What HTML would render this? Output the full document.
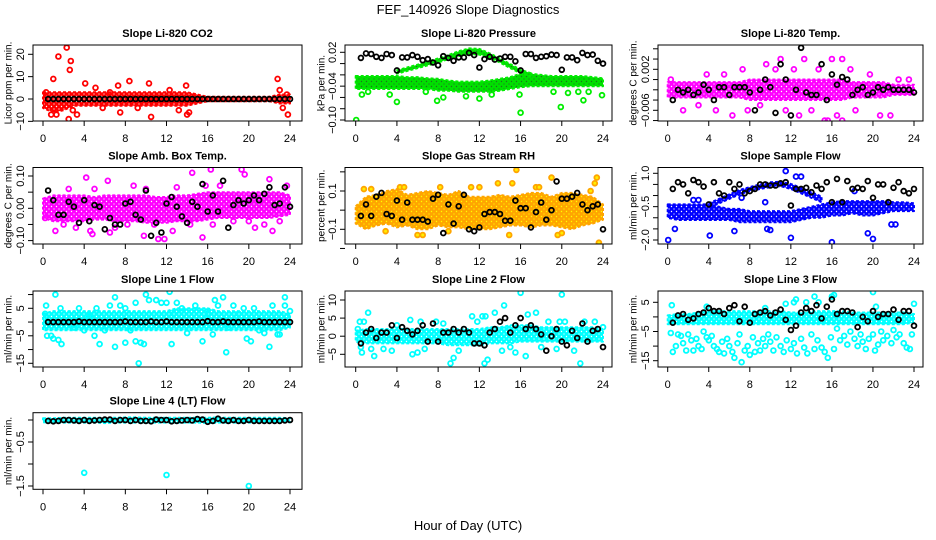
<!DOCTYPE html>
<html><head><meta charset="utf-8">
<style>
html,body{margin:0;padding:0;background:#fff;}
svg{display:block;font-family:"Liberation Sans",Arial,sans-serif;}
</style></head>
<body>
<svg id="chart" width="936" height="540" viewBox="0 0 936 540" xmlns="http://www.w3.org/2000/svg">
<text x="468" y="14" text-anchor="middle" font-size="13">FEF_140926  Slope Diagnostics</text>
<text x="468" y="530" text-anchor="middle" font-size="13">Hour of Day (UTC)</text>
</svg>
<script>
// ---------- shared hour categories ----------
const bandHours = [0,1,2,3,4,5,6,7,8,9,10,11,12,13,14,15,16,17,18,19,20,21,22,23,24];
const blackHours = [0.5,1,1.5,2,2.5,3,3.5,4,4.5,5,5.5,6,6.5,7,7.5,8,8.5,9,9.5,10,10.5,11,11.5,12,12.5,13,13.5,14,14.5,15,15.5,16,16.5,17,17.5,18,18.5,19,19.5,20,20.5,21,21.5,22,22.5,23,23.5,24];
const xTicks = [0,4,8,12,16,20,24];

// ---------- P1 CO2 ----------
const p1BandLo = [-4,-6,-5,-3,-3,-3,-3,-3,-3,-3,-3,-3,-3,-3,-3,-2,-1,-1,-1,-1,-1,-1,-1,-2,-2];
const p1BandHi = [3,3,3,3,3,3,3,3,3,3,3,3,3,3,3,2,1,1,1,1,1,1,1,2,2];
const p1OutH = [0.3,0.8,1.0,1.3,1.5,2.3,2.5,2.6,2.7,2.9,3.3,4.1,5.1,5.8,6.5,7.3,7.5,8.4,9.2,10.3,10.5,12.3,13.2,13.9,14.0,14.2,22.8,23.0,23.3,23.7,23.8];
const p1OutV = [3,-7,9,-7,19,23,-9,13,17,-5,-7,7,5,-4,3,6,-6,8,-4,7,-8,4,-5,6,-7,-6,9,4,-4,2,-7];
const p1Black = [0,0,0,0,0,0,0,0,0,0,0,0,0,0,0,0,0,0,0,0,0,0,0,0,0,0,0,0,0,0,0,0,0,0,0,0,0,0,0,0,0,0,0,0,0,0,0,0];

// ---------- P2 Pressure ----------
const p2BandLo = [-0.045,-0.045,-0.045,-0.045,-0.045,-0.045,-0.045,-0.045,-0.048,-0.048,-0.05,-0.05,-0.05,-0.05,-0.048,-0.045,-0.042,-0.04,-0.04,-0.04,-0.04,-0.04,-0.04,-0.04,-0.04];
const p2BandHi = [-0.022,-0.022,-0.022,-0.022,-0.022,-0.024,-0.024,-0.026,-0.027,-0.03,-0.032,-0.032,-0.032,-0.03,-0.027,-0.024,-0.018,-0.018,-0.02,-0.022,-0.022,-0.022,-0.022,-0.024,-0.026];
const p2ArcLo = [null,null,null,null,-0.018,-0.013,-0.008,-0.003,0.002,0.008,0.013,0.017,0.016,0.011,0.002,-0.008,-0.017,-0.022,null,null,null,null,null,null,null];
const p2ArcHi = [null,null,null,null,-0.012,-0.007,-0.002,0.004,0.009,0.015,0.022,0.027,0.026,0.018,0.009,-0.001,-0.011,-0.017,null,null,null,null,null,null,null];
const p2OutH = [0.05,0.6,1.2,3.3,4.0,6.8,7.9,8.5,10.7,12.0,13.2,15.9,16.0,19.2,19.9,20.6,21.6,22.1,22.6,23.9];
const p2OutV = [-0.1,-0.055,-0.05,-0.055,-0.068,-0.05,-0.066,-0.06,-0.058,-0.062,-0.055,-0.055,-0.087,-0.05,-0.077,-0.052,-0.05,-0.065,-0.05,-0.056];
const p2Black = [0.01,0.018,0.017,0.012,0.01,0.017,0.015,-0.012,0.011,0.011,0.015,0.012,0.006,0.008,0.002,-0.003,0.013,0.01,0.005,0.011,0.011,0.019,0.015,-0.007,0.008,0.012,0.007,0.009,0.012,0.012,0.004,-0.012,0.017,0.017,0.01,0.012,0.013,0.016,0.015,-0.011,0.011,0.011,0.006,0.019,0.015,0.016,0.005,0.0];

// ---------- P3 Li-820 Temp ----------
const p3BandLo = [-0.0035,-0.0035,-0.0035,-0.0035,-0.0035,-0.0035,-0.0035,-0.0035,-0.004,-0.004,-0.004,-0.004,-0.004,-0.004,-0.004,-0.004,-0.004,-0.004,-0.0035,-0.0035,-0.0035,-0.0035,-0.003,-0.003,-0.003];
const p3BandHi = [-0.0005,-0.0005,-0.0005,-0.0005,-0.0005,-0.0005,-0.0005,-0.0005,0,0,0,0,0,0,0,0,0,0,-0.0005,-0.0005,-0.0005,-0.0005,-0.001,-0.001,-0.001];
const p3OutH = [0.3,1.5,3,3.8,4.7,5.5,6.3,7.3,7.8,9,9.6,10.5,11,11.5,12.3,12.8,13.3,14,14.7,15.3,15.6,16,16.5,17,17,17.8,18.3,19.7,20.7,21.7,22.5,23.5];
const p3OutV = [0,-0.006,-0.005,0.001,-0.006,0.001,-0.007,0.002,-0.006,-0.005,0.003,0.002,0.004,-0.006,0.002,-0.007,0.004,-0.006,0.002,-0.008,-0.008,0.004,-0.007,0.004,-0.008,0.002,-0.006,0.001,-0.007,-0.007,0,0];
const p3Black = [-0.004,-0.002,-0.0025,-0.002,-0.003,-0.0025,-0.001,-0.002,-0.004,-0.0015,-0.0015,-0.003,-0.0015,-0.0015,-0.0015,-0.0025,-0.006,-0.002,0,-0.0015,-0.0065,0.003,0,-0.007,-0.002,0.0062,-0.0025,-0.003,-0.003,0.003,-0.004,0.001,-0.001,0.0005,0,-0.003,-0.002,-0.0015,-0.003,-0.0025,-0.0015,-0.002,-0.0015,-0.002,-0.002,-0.002,-0.002,-0.0025];

// ---------- P4 Amb Box Temp ----------
const p4BandLo = [-0.03,-0.04,-0.04,-0.04,-0.04,-0.035,-0.035,-0.04,-0.04,-0.04,-0.045,-0.045,-0.045,-0.04,-0.04,-0.04,-0.035,-0.03,-0.03,-0.03,-0.03,-0.03,-0.03,-0.025,-0.02];
const p4BandHi = [0.03,0.04,0.04,0.04,0.04,0.035,0.04,0.04,0.04,0.04,0.04,0.035,0.035,0.04,0.04,0.045,0.05,0.05,0.05,0.05,0.05,0.05,0.05,0.05,0.04];
const p4OutH = [0.2,1.2,2,3.2,4.2,4.6,4.8,5,6.3,6.5,7,8.2,8.8,9.8,10.8,11.2,11.8,12.6,14.5,14.3,15.5,15.8,16.3,16.5,17.2,18.5,19.3,19.6,20,20.6,21.5,22,22.3,23,23.7,2.5,10,13];
const p4OutV = [-0.03,-0.07,-0.05,-0.06,0.095,-0.07,-0.08,0.06,0.085,-0.075,-0.06,-0.05,0.07,-0.085,-0.05,-0.095,-0.095,-0.07,0.11,-0.05,-0.09,0.07,0.12,-0.05,0.07,-0.04,0.12,0.105,-0.04,-0.06,-0.05,0.09,-0.07,-0.04,0.07,0.06,0.06,0.065];
const p4Black = [0.055,0.025,-0.02,-0.02,0.02,0.005,-0.045,0.025,-0.04,0.01,0.005,-0.065,-0.03,-0.05,-0.05,0.015,0.02,-0.02,-0.035,0.055,-0.085,-0.045,-0.075,0.015,0.035,0.005,-0.025,-0.045,0.02,0.005,0.075,-0.01,0.04,-0.01,0.085,-0.06,0.01,0.025,0.015,0.025,0.04,0.025,0.045,0.065,0.01,0.015,0.065,0.005];

// ---------- P5 Gas Stream RH ----------
const p5BandLo = [-0.07,-0.1,-0.08,-0.07,-0.09,-0.08,-0.1,-0.1,-0.08,-0.09,-0.09,-0.1,-0.1,-0.1,-0.09,-0.08,-0.08,-0.09,-0.08,-0.08,-0.09,-0.1,-0.08,-0.07,-0.05];
const p5BandHi = [0.02,0.07,0.08,0.1,0.11,0.08,0.09,0.1,0.09,0.08,0.1,0.07,0.07,0.07,0.08,0.07,0.08,0.09,0.09,0.07,0.09,0.09,0.08,0.07,0.03];
const p5OutH = [0.8,2.9,4.3,4.7,6,6.5,9,11.2,12,13.8,14.9,15.2,15.6,17.5,17.8,19,19.6,20,22.8,23.2,23.6,23.4,1.5,8.2];
const p5OutV = [0.11,-0.11,0.12,0.12,-0.13,-0.13,-0.11,0.12,0.12,0.14,-0.13,0.14,0.21,0.12,0.12,0.17,-0.13,-0.12,0.1,0.14,-0.17,0.17,0.11,0.12];
const p5Black = [-0.03,0.03,-0.03,0.07,0.09,-0.02,-0.03,0.05,-0.05,0.04,-0.05,-0.05,-0.05,-0.06,0.06,0.08,-0.12,0.03,-0.07,0.02,0.08,-0.1,-0.11,-0.09,-0.02,-0.01,-0.01,-0.02,-0.055,-0.055,0.05,0.01,0.01,-0.09,-0.01,0.04,-0.05,0,0.15,0.06,0.06,0.07,0.09,0.03,0,0.02,0.03,-0.1];

// ---------- P6 Sample Flow ----------
const p6BandLo = [-1.0,-1.1,-1.1,-1.1,-1.1,-1.1,-1.1,-1.2,-1.2,-1.2,-1.2,-1.2,-1.2,-1.1,-1.0,-1.0,-0.9,-0.9,-0.8,-0.9,-0.9,-0.8,-0.7,-0.7,-0.7];
const p6BandHi = [-0.4,-0.4,-0.4,-0.4,-0.4,-0.5,-0.6,-0.6,-0.7,-0.7,-0.7,-0.7,-0.7,-0.6,-0.5,-0.4,-0.3,-0.25,-0.25,-0.25,-0.25,-0.25,-0.3,-0.3,-0.35];
const p6ArcLo = [null,null,null,null,-0.55,-0.35,-0.15,0.05,0.2,0.3,0.38,0.42,0.3,0.1,-0.1,-0.3,null,null,null,null,null,null,null,null,null];
const p6ArcHi = [null,null,null,null,-0.35,-0.15,0.05,0.25,0.38,0.5,0.6,0.62,0.52,0.35,0.15,-0.05,null,null,null,null,null,null,null,null,null];
const p6OutH = [0.05,0.7,4.1,6.5,9.7,10,11.5,12,12.5,13,16,19.5,20,21.8,22.2,2.5,3,7.2,9.5,18.2];
const p6OutV = [-2.0,-1.5,-1.8,-1.6,-1.5,-1.55,1.1,-1.9,0.85,0.85,-2.1,-1.7,-1.95,-1.3,-1.3,-0.2,-0.2,-0.1,-0.3,0.2];
const p6Black = [0.3,0.6,0.5,0.1,0.7,0.6,0.4,-0.4,0.6,0.1,0.0,0.6,0.3,0.5,0.1,0.2,0.3,0.5,0.5,0.45,0.45,0.55,0.6,-0.45,0.3,0.3,0.35,0.15,0.45,0.3,0.6,-0.3,0.75,-0.3,0.65,0.3,0.35,0.3,0.65,-0.1,0.5,0.5,-0.3,0.35,0.6,0.2,0.1,0.3];

// ---------- P7 Line 1 Flow ----------
const p7BandLo = [-3,-3,-3,-3,-3,-3,-3,-3,-3,-3,-3,-3,-3,-3,-3,-3,-3,-3,-3,-3,-3,-3,-3,-3,-2];
const p7BandHi = [3,4,4,4,4,4,4,4,4,4,4,4,4,5,5,5,5,4,4,4,4,4,4,4,3];
const p7OutH = [0.2,0.3,0.4,0.8,1,1.2,1.5,1.8,1.7,3,3.5,4,4.5,5,5.2,5.5,6,6.5,7,7,7.5,8,8,8.5,9,9,9.3,9.5,9.8,10,10.3,11,11.5,12,12.3,12.5,12.7,13,13.5,14,14.8,15.5,16,16.5,16.7,17,17.5,17.8,18,18.5,19,19.5,19.8,20.2,20.5,21,21.5,22,22.3,22.8,23,23.5,23.5,24];
const p7OutV = [3,6,-5,-5,-6,10,-6.5,-8,5,-2,5,-3,2,-5,5,-8,-3,6,-9,9,6,-7.5,5,-3,7,-7,-15,-7.5,-8,10,8,8,7,7,11,-8,3,7,5,-4,6,-7,3,-4.5,8,6,9,-11,-2,6,3,5,-6,-7,5,-3,-4,-9,6,-4.5,-4.5,9,6,4];
const p7Black = [0,0,0,0,0,0,0.2,0,0,0,0,0,0,0,0,0.2,0,0,0,0,0.2,0,0,0.2,0,0,0,0,0,0,0,0.3,0,0,0.2,0,0,0,0,0,0,0.2,0,0,0,0,0,0];

// ---------- P8 Line 2 Flow ----------
const p8BandLo = [-1.5,-2,-2,-2,-2,-2,-2,-2,-2,-2.5,-2.5,-2.5,-2.5,-2,-2,-2,-1.5,-1.5,-1.5,-1.5,-1.5,-1.5,-1.5,-1.5,-1.5];
const p8BandHi = [1.5,2,2,2,2,2,2,2,2,2,2,2,2,2.5,2.5,3,3,3,2.5,2.5,2.5,2.5,2.5,2.5,2];
const p8OutH = [0.2,0.4,0.5,0.6,0.8,1.2,1.5,1.8,2.7,3.5,4,5.3,5.5,6,6.3,6.7,7.8,8.5,9.2,9.5,10,11.3,11.8,12.3,12.5,12.6,12.8,13.5,14.2,14.4,15,15.5,16,16.5,16.7,17.5,18,18.7,19.5,19.8,20,20.3,21.2,21.8,22.2,23.2,24];
const p8OutV = [2,4,-3,-4.5,4,6.5,-3.5,-5.5,-3.5,-4,3,4.5,-5,-4.5,4,-3.5,4,3.5,-7.5,-6,-4,5.5,4,5.5,-7.5,5.5,-6.5,6.5,-4,8.5,-3,-4.5,12,-5.5,6,6.5,-3,4,-3.5,4,11.5,4,-4,-7.5,4,4,2.5];
const p8Black = [-2,1,2,-0.5,1,1,3,-0.5,2.5,1.5,0.5,1.5,3,-1.5,3.5,-1.5,1,1,2,1,2,1,-2,-2,-2.5,1,2,4,5,1,3,5,2,3,2,0.5,-4,0,2,-1.5,-2.5,1.5,-0.5,3.5,-1.5,1.5,2,-3];

// ---------- P9 Line 3 Flow ----------
const p9BandLo = [-2.5,-2.5,-2.5,-2.5,-2.5,-2.5,-2.5,-2.5,-2.5,-2.5,-2.5,-2.5,-2.5,-2.5,-2.5,-2.5,-2.5,-2.5,-2.5,-2.5,-2.5,-2.5,-2.5,-2.5,-2];
const p9BandHi = [0.5,1,1,1.5,2,2,2,2,2,2,2,2,1.5,1.5,2,2,2,2,1.5,1.5,1.5,1.5,1.5,1.5,1];
const p9OutH = [0.3,0.5,0.8,1,1.3,1.5,1.8,2,2.3,2.5,2.8,3,3.3,3.5,3.8,4,4.3,4.5,4.8,5,5.3,5.5,5.8,6,6.3,6.5,6.8,7,7.2,7.5,7.8,8,8.3,8.5,8.8,9,9.3,9.5,9.8,10,10.3,10.6,11,11.3,11.6,12,12.3,12.6,13,13.3,13.6,14,14.3,14.6,15,15.3,15.6,15.9,16.2,16.5,16.8,17.2,17.5,17.8,18.2,18.5,18.8,19,19.3,19.6,20,20.2,20.5,20.8,21,21.4,21.8,22,22.3,22.6,23,23.3,23.6,23.8,0.4,12.3,12.5,13.5,14.3,14.7,16,16.2,20,20.3,24,3.8,9.5,11.5];
const p9OutV = [-5.5,-12,-10,-6,-6.5,-9,-11.5,-6,-8,-11.5,-7.5,-10,-11,-5,-7,-8,-6.5,-10,-11,-12,-8.5,-12.5,-7.5,-10,-12,-14,-9,-6,-15.5,-11.5,-10,-13,-7,-12,-9,-11.5,-7.5,-10,-6,-8.5,-11.5,-7,-10,-12,-8,-11,-9,-12.5,-7.5,-10.5,-12.5,-6,-11,-8,-10.5,-12,-14,-7,-11,-4,-8,-6.5,-9.5,-5,-7.5,-10,-6,-8.5,-11,-7.5,-6,-11.5,-9.5,-5,-8,-6.5,-9,-4.5,-7,-6,-9,-10.5,-11,-6,4,5,6,5,7,5,7,7.5,8.5,3.5,4.5,3.5,3,4.5];
const p9Black = [-2,0.5,1,-1,-0.5,1,1.5,3,2,2,1,3,4,-1.5,3.5,-2,1,1.5,2,0.5,1.5,2.5,-1,-4.5,-3,1.5,3,2,4,-0.5,3.5,6,1,2,2,1.5,-3.5,0,-1.5,2,0,1,1,2.5,-1,2,2,-3];

// ---------- P10 Line 4 (LT) Flow ----------
const p10BandLo = [-0.05,-0.06,-0.06,-0.06,-0.06,-0.06,-0.07,-0.06,-0.06,-0.06,-0.06,-0.06,-0.06,-0.06,-0.06,-0.06,-0.07,-0.06,-0.06,-0.06,-0.06,-0.06,-0.06,-0.06,-0.05];
const p10BandHi = [0.04,0.04,0.05,0.05,0.05,0.05,0.05,0.05,0.06,0.06,0.05,0.05,0.05,0.05,0.05,0.05,0.05,0.06,0.05,0.05,0.05,0.05,0.05,0.05,0.04];
const p10OutH = [4,12,20];
const p10OutV = [-1.2,-1.25,-1.5];
const p10Black = [-0.02,-0.03,-0.02,0,0,-0.01,-0.02,0,-0.02,-0.01,0,0.01,0.01,-0.02,0,0,-0.02,0,-0.02,-0.02,-0.03,0.01,0,0,-0.03,-0.02,-0.01,0,-0.01,0.02,0.01,-0.04,-0.02,0.03,-0.01,-0.02,0,-0.02,-0.02,0,-0.02,-0.02,-0.02,-0.02,-0.02,-0.02,-0.01,0];

// ---------- layout (positions, not data) ----------
const cols = [{l:33,r:302,x0:43,x24:290,yl:9},{l:345,r:612,x0:355.7,x24:603,yl:322},{l:658,r:923,x0:667.7,x24:914,yl:634}];
const rows = [{t:45,b:121},{t:167.5,b:244},{t:291,b:367},{t:412.7,b:489.3}];
const panels = [
 {key:'co2',title:'Slope Li-820 CO2',ylab:'Licor ppm per min.',c:0,r:0,v0:0,p0:99,v1:20,p1:54.3,ticks:[-10,0,10,20],labels:['-10','0','10','20'],col:'#ff0000',bg:'#ff0000',dot:'#ffffff',bands:[[p1BandLo,p1BandHi]],oh:p1OutH,ov:p1OutV,blk:p1Black},
 {key:'pressure',title:'Slope Li-820 Pressure',ylab:'kPa per min.',c:1,r:0,v0:0.02,p0:52.3,v1:-0.1,p1:120,ticks:[0.02,0,-0.02,-0.04,-0.06,-0.08,-0.1],labels:['0.02','','','-0.04','','','-0.10'],col:'#00ee00',bg:'#00e000',dot:'#207020',bands:[[p2BandLo,p2BandHi],[p2ArcLo,p2ArcHi]],oh:p2OutH,ov:p2OutV,blk:p2Black},
 {key:'li820-temp',title:'Slope Li-820 Temp.',ylab:'degrees C per min.',c:2,r:0,v0:0.002,p0:69.3,v1:-0.006,p1:110.3,ticks:[0.006,0.004,0.002,0,-0.002,-0.004,-0.006,-0.008],labels:['','','0.002','','','','-0.006',''],col:'#ff00ff',bg:'#ff00ff',dot:'#ffffff',bands:[[p3BandLo,p3BandHi]],oh:p3OutH,ov:p3OutV,blk:p3Black},
 {key:'amb-box-temp',title:'Slope Amb. Box Temp.',ylab:'degrees C per min.',c:0,r:1,v0:0,p0:208.3,v1:0.1,p1:176,ticks:[0.1,0.05,0,-0.05,-0.1],labels:['0.10','','0.00','','-0.10'],col:'#ff00ff',bg:'#ff00ff',dot:'#ffffff',bands:[[p4BandLo,p4BandHi]],oh:p4OutH,ov:p4OutV,blk:p4Black},
 {key:'gas-stream-rh',title:'Slope Gas Stream RH',ylab:'percent per min.',c:1,r:1,v0:0.1,p0:191,v1:-0.1,p1:229.3,ticks:[0.2,0.1,0,-0.1,-0.2],labels:['','0.1','','-0.1',''],col:'#ffa500',bg:'#ffa500',dot:'#ffff00',bands:[[p5BandLo,p5BandHi]],oh:p5OutH,ov:p5OutV,blk:p5Black},
 {key:'sample-flow',title:'Slope Sample Flow',ylab:'ml/min per min.',c:2,r:1,v0:1,p0:173.3,v1:-2,p1:240,ticks:[1,0.5,0,-0.5,-1,-1.5,-2],labels:['1.0','','','-0.5','','','-2.0'],col:'#0000ff',bg:'#0000ff',dot:'#ffffff',bands:[[p6BandLo,p6BandHi],[p6ArcLo,p6ArcHi]],oh:p6OutH,ov:p6OutV,blk:p6Black},
 {key:'line1-flow',title:'Slope Line 1 Flow',ylab:'ml/min per min.',c:0,r:2,v0:5,p0:308.3,v1:-15,p1:363.3,ticks:[10,5,0,-5,-10,-15],labels:['','5','','-5','','-15'],col:'#00ffff',bg:'#00ffff',dot:'#ffffff',bands:[[p7BandLo,p7BandHi]],oh:p7OutH,ov:p7OutV,blk:p7Black},
 {key:'line2-flow',title:'Slope Line 2 Flow',ylab:'ml/min per min.',c:1,r:2,v0:10,p0:300,v1:-5,p1:354.3,ticks:[10,5,0,-5],labels:['10','5','0','-5'],col:'#00ffff',bg:'#00ffff',dot:'#ffffff',bands:[[p8BandLo,p8BandHi]],oh:p8OutH,ov:p8OutV,blk:p8Black},
 {key:'line3-flow',title:'Slope Line 3 Flow',ylab:'ml/min per min.',c:2,r:2,v0:5,p0:302.3,v1:-15,p1:360.7,ticks:[5,0,-5,-10,-15],labels:['5','','-5','','-15'],col:'#00ffff',bg:'#00ffff',dot:'#ffffff',bands:[[p9BandLo,p9BandHi]],oh:p9OutH,ov:p9OutV,blk:p9Black},
 {key:'line4-flow',title:'Slope Line 4 (LT) Flow',ylab:'ml/min per min.',c:0,r:3,v0:0,p0:420,v1:-1.5,p1:486,ticks:[0,-0.5,-1,-1.5],labels:['','-0.5','','-1.5'],col:'#00ffff',bg:'#00ffff',dot:'#ffffff',bands:[[p10BandLo,p10BandHi]],oh:p10OutH,ov:p10OutV,blk:p10Black}
];

const NS = 'http://www.w3.org/2000/svg';
const svg = document.getElementById('chart');
function mk(tag, attrs, parent){
  const e = document.createElementNS(NS, tag);
  for (const k in attrs) e.setAttribute(k, attrs[k]);
  (parent||svg).appendChild(e);
  return e;
}
function fmt(s){ return s.replace('-', '\u2212'); }
const defs = mk('defs', {});

panels.forEach(function(p){
  const C = cols[p.c], R = rows[p.r];
  const xs = h => C.x0 + (C.x24 - C.x0) * h / 24;
  const ys = v => p.p0 + (v - p.v0) * (p.p1 - p.p0) / (p.v1 - p.v0);
  // texture pattern mimicking overlapping open circles
  const patId = 'pat-' + p.key;
  const pat = mk('pattern', {id: patId, width: 5, height: 5, patternUnits: 'userSpaceOnUse'}, defs);
  mk('rect', {x: 0, y: 0, width: 5, height: 5, fill: p.bg}, pat);
  mk('circle', {cx: 1.5, cy: 1.5, r: 0.7, fill: p.dot}, pat);
  mk('circle', {cx: 4, cy: 4, r: 0.6, fill: p.dot}, pat);

  const g = mk('g', {});
  
  
  const clipId = 'clip-' + p.key;
  const cp = mk('clipPath', {id: clipId}, g);
  mk('rect', {x: C.l, y: R.t, width: C.r - C.l, height: R.b - R.t}, cp);
  const plot = mk('g', {'clip-path': 'url(#' + clipId + ')'}, g);
  
  

  p.bands.forEach(function(b, bi){
    const lo = b[0], hi = b[1];
    const top = [], bot = [];
    bandHours.forEach(function(h, i){
      if (lo[i] === null || hi[i] === null) return;
      top.push(xs(h).toFixed(1) + ',' + ys(hi[i]).toFixed(1));
      bot.unshift(xs(h).toFixed(1) + ',' + ys(lo[i]).toFixed(1));
    });
    const poly = mk('polygon', {points: top.concat(bot).join(' '), fill: 'url(#' + patId + ')', stroke: p.col, 'stroke-width': 2, 'stroke-dasharray': '3 2', 'stroke-linejoin': 'round'}, plot);
    
    
  });
  p.oh.forEach(function(h, i){
    const c = mk('circle', {cx: xs(h).toFixed(1), cy: ys(p.ov[i]).toFixed(1), r: 2.4, fill: p.key === 'gas-stream-rh' ? '#ffee00' : 'none', stroke: p.col, 'stroke-width': 1.8}, plot);
    
    
  });
  blackHours.forEach(function(h, i){
    const v = p.blk[i];
    if (v === null || v === undefined) return;
    const c = mk('circle', {cx: xs(h).toFixed(1), cy: ys(v).toFixed(1), r: 2.4, fill: 'none', stroke: '#000', 'stroke-width': 1.8}, plot);
    
    
  });

  const fr = mk('rect', {x: C.l, y: R.t, width: C.r - C.l, height: R.b - R.t, fill: 'none', stroke: '#000', 'stroke-width': 1}, g);
  
  
  const t = mk('text', {x: (C.l + C.r) / 2, y: R.t - 8, 'text-anchor': 'middle', 'font-size': 11, 'font-weight': 'bold'}, g);
  t.textContent = p.title;
  
  
  const yc = (R.t + R.b) / 2;
  const yl = mk('text', {x: C.yl, y: yc, 'text-anchor': 'middle', 'font-size': 10, transform: 'rotate(-90 ' + C.yl + ' ' + yc + ')', 'dominant-baseline': 'central'}, g);
  yl.textContent = p.ylab;
  
  
  p.ticks.forEach(function(v, i){
    const y = ys(v);
    mk('line', {x1: C.l, x2: C.l - 5, y1: y, y2: y, stroke: '#000', 'stroke-width': 1}, g);
    if (p.labels[i]) {
      const lx = C.l - 12;
      const tl = mk('text', {x: lx, y: y, 'text-anchor': 'middle', 'font-size': 11, 'dominant-baseline': 'central', transform: 'rotate(-90 ' + lx + ' ' + y + ')'}, g);
      tl.textContent = fmt(p.labels[i]);
      
      
    }
  });
  xTicks.forEach(function(h){
    const x = xs(h);
    mk('line', {x1: x, x2: x, y1: R.b, y2: R.b + 5, stroke: '#000', 'stroke-width': 1}, g);
    const tl = mk('text', {x: x, y: R.b + 21, 'text-anchor': 'middle', 'font-size': 11}, g);
    tl.textContent = String(h);
    
    
  });
});
</script>
</body></html>
